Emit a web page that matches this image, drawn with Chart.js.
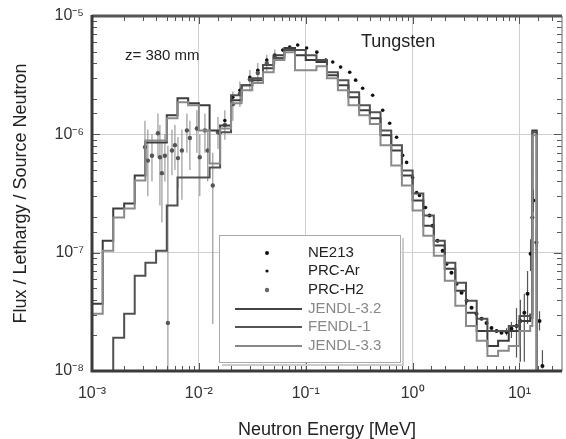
<!DOCTYPE html>
<html>
<head>
<meta charset="utf-8">
<script src="https://cdn.jsdelivr.net/npm/chart.js@4"></script>
<style>
  html, body { margin: 0; padding: 0; background: #fff; }
</style>
</head>
<body>
<canvas id="chart" width="566" height="439"></canvas>
<script>
// bin edges of the calculated spectra (MeV)
const edgesMeV = [0.001, 0.00126, 0.00158, 0.002, 0.00251, 0.00316, 0.00398, 0.00501, 0.00631, 0.00794,
  0.01, 0.0126, 0.0158, 0.02, 0.0251, 0.0316, 0.0398, 0.0501, 0.0631, 0.0794,
  0.1, 0.126, 0.158, 0.2, 0.251, 0.316, 0.398, 0.501, 0.631, 0.794,
  1, 1.26, 1.58, 2, 2.51, 3.16, 3.98, 5.01, 6.31, 7.94,
  10, 12.6, 13.2, 14.5, 16];

// flux per lethargy per source neutron, one value per bin
const jendl32 = [3.7e-8, 1.26e-7, 2.36e-7, 2.6e-7, 4.49e-7, 8.55e-7, 8.55e-7, 1.45e-6, 2.02e-6, 1.83e-6,
  1.76e-6, 1.08e-6, 1.19e-6, 1.94e-6, 2.6e-6, 2.87e-6, 3.62e-6, 4.67e-6, 5.36e-6, 4.67e-6,
  4.24e-6, 4.08e-6, 3.16e-6, 2.6e-6, 2.06e-6, 1.6e-6, 1.37e-6, 9.8e-7, 7.31e-7, 4.49e-7,
  2.76e-7, 1.69e-7, 1.15e-7, 7.3e-8, 4.77e-8, 3.1e-8, 2.18e-8, 1.63e-8, 1.8e-8, 2.18e-8,
  2.65e-8, 2.8e-8, 1.08e-6, 1e-9];
const fendl1 = [1e-9, 1e-9, 1.91e-8, 3.04e-8, 6.38e-8, 8.2e-8, 1.04e-7, 2.5e-7, 4.32e-7, 4.32e-7,
  4.32e-7, 5.25e-7, 1.04e-6, 2.14e-6, 2.6e-6, 2.98e-6, 3.85e-6, 4.41e-6, 5.15e-6, 5.15e-6,
  4.67e-6, 4.24e-6, 3.35e-6, 2.87e-6, 2.27e-6, 1.76e-6, 1.54e-6, 1.08e-6, 8.07e-7, 4.95e-7,
  3.16e-7, 2.06e-7, 1.26e-7, 8.2e-8, 5.57e-8, 3.92e-8, 2.76e-8, 2.18e-8, 2.18e-8, 2.4e-8,
  2.92e-8, 3.0e-8, 1.04e-6, 1e-9];
const jendl33 = [3.04e-8, 1.04e-7, 1.98e-7, 2.36e-7, 4.07e-7, 8.89e-7, 8.89e-7, 1.37e-6, 1.87e-6, 1.76e-6,
  1.08e-6, 5.68e-7, 1.12e-6, 1.83e-6, 2.36e-6, 2.71e-6, 3.35e-6, 4.24e-6, 4.95e-6, 3.48e-6,
  3.48e-6, 3.77e-6, 2.98e-6, 2.36e-6, 1.76e-6, 1.45e-6, 1.22e-6, 8.07e-7, 5.46e-7, 3.7e-7,
  2.27e-7, 1.39e-7, 9.4e-8, 5.8e-8, 3.56e-8, 2.4e-8, 1.8e-8, 1.34e-8, 1.48e-8, 1.63e-8,
  2.18e-8, 2.4e-8, 9.8e-7, 1e-9];

// PRC-H2 measurement
const h2E = [0.00313, 0.00333, 0.00364, 0.00414, 0.00432, 0.00451, 0.00481, 0.00513, 0.0056, 0.00597,
  0.00637, 0.00694, 0.00773, 0.00824, 0.00958, 0.0102, 0.0114, 0.0121, 0.0135, 0.0151,
  0.0175, 0.0208, 0.0242, 0.030, 0.0356, 0.0432, 0.0513];
const h2F = [7.8e-7, 6.0e-7, 6.6e-7, 1.02e-6, 6.4e-7, 4.7e-7, 6.6e-7, 2.55e-8, 7.3e-7, 8.1e-7,
  6.3e-7, 7.3e-7, 1.08e-6, 9.3e-7, 1.12e-6, 6.4e-7, 1.08e-6, 7.3e-7, 3.7e-7, 1.04e-6,
  1.2e-6, 1.8e-6, 2.2e-6, 2.9e-6, 3.3e-6, 4.0e-6, 4.5e-6];
const h2Lo = [4.5e-7, 3.0e-7, 4.0e-7, 6.5e-7, 2.5e-7, 1.8e-7, 4.0e-7, 1e-9, 4.5e-7, 5.0e-7,
  3.5e-7, 2.8e-7, 7.0e-7, 5.0e-7, 7.0e-7, 3.0e-7, 7.0e-7, 4.0e-7, 2.5e-8, 7.5e-7,
  9.0e-7, 1.3e-6, 1.7e-6, 2.3e-6, 2.7e-6, 3.4e-6, 3.9e-6];
const h2Hi = [1.3e-6, 1.1e-6, 1.0e-6, 1.5e-6, 1.2e-6, 8.5e-7, 1.0e-6, 8.0e-7, 1.1e-6, 1.2e-6,
  9.5e-7, 1.1e-6, 1.5e-6, 1.3e-6, 1.6e-6, 1.0e-6, 1.5e-6, 1.1e-6, 7.0e-7, 1.4e-6,
  1.6e-6, 2.3e-6, 2.8e-6, 3.5e-6, 4.0e-6, 4.7e-6, 5.2e-6];

// PRC-Ar measurement
const arE = [0.0157, 0.0175, 0.0208, 0.0242, 0.030, 0.0356, 0.0432, 0.0513, 0.061, 0.0708,
  0.0841, 0.102, 0.127, 0.154, 0.179, 0.212, 0.258, 0.293, 0.341, 0.423,
  0.525, 0.61, 0.708, 0.807, 0.879, 1.0, 1.09, 1.16, 1.32];
const arF = [1.02e-6, 1.31e-6, 2.06e-6, 2.36e-6, 3.04e-6, 3.48e-6, 4.24e-6, 4.67e-6, 5.15e-6, 5.46e-6,
  5.68e-6, 5.36e-6, 4.95e-6, 4.24e-6, 4.08e-6, 3.7e-6, 3.35e-6, 2.87e-6, 2.45e-6, 2.14e-6,
  1.6e-6, 1.24e-6, 9.44e-7, 6.64e-7, 5.79e-7, 4.32e-7, 3.22e-7, 3.04e-7, 2.41e-7];

// NE213 measurement
const neE = [1.44, 1.54, 1.71, 1.91, 2.08, 2.31, 2.58, 2.87, 3.2, 3.56,
  3.96, 4.42, 4.92, 5.47, 6.1, 6.79, 7.56, 8.41, 9.38, 10.2,
  11.1, 11.9, 12.7, 13.2, 13.5, 14.4, 15.4, 16.4];
const neF = [2.06e-7, 1.69e-7, 1.26e-7, 1.04e-7, 8.07e-8, 6.77e-8, 5.46e-8, 4.58e-8, 3.92e-8, 3.42e-8,
  3.04e-8, 2.76e-8, 2.55e-8, 2.31e-8, 2.18e-8, 2.1e-8, 2.14e-8, 2.27e-8, 2.4e-8, 2.65e-8,
  3.1e-8, 4.5e-8, 9.8e-8, 1.98e-7, 2.76e-7, 1.22e-7, 2.65e-8, 1.1e-8];
const neLo = [2.06e-7, 1.69e-7, 1.26e-7, 1.04e-7, 8.07e-8, 6.77e-8, 5.46e-8, 4.58e-8, 3.92e-8, 3.42e-8,
  3.04e-8, 2.76e-8, 2.55e-8, 2.31e-8, 2.18e-8, 2.1e-8, 2.0e-8, 1.9e-8, 1.3e-8, 1.2e-8,
  1.2e-8, 2.5e-8, 7.0e-8, 1.5e-7, 2.2e-7, 9.0e-8, 2.2e-8, 1.05e-8];
const neHi = [2.06e-7, 1.69e-7, 1.26e-7, 1.04e-7, 8.07e-8, 6.77e-8, 5.46e-8, 4.58e-8, 3.92e-8, 3.42e-8,
  3.04e-8, 2.76e-8, 2.55e-8, 2.31e-8, 2.18e-8, 2.1e-8, 2.3e-8, 2.6e-8, 3.4e-8, 4.0e-8,
  4.5e-8, 7.0e-8, 1.3e-7, 2.6e-7, 3.4e-7, 1.6e-7, 3.2e-8, 1.5e-8];

const FONT = '"Liberation Sans", Arial, sans-serif';
const SUP = { '-': '\u207B', '0': '\u2070', '1': '\u00B9', '2': '\u00B2', '3': '\u00B3',
  '4': '\u2074', '5': '\u2075', '6': '\u2076', '7': '\u2077', '8': '\u2078', '9': '\u2079' };

function isDecade(v) {
  const l = Math.log10(v);
  return Math.abs(l - Math.round(l)) < 1e-6;
}
function decadeLabel(v) {
  if (!isDecade(v)) return '';
  const p = String(Math.round(Math.log10(v)));
  return '10' + p.split('').map(c => SUP[c]).join('');
}
function histogram(vals) {
  return edgesMeV.map((e, i) => ({ x: e, y: i < vals.length ? vals[i] : vals[vals.length - 1] }));
}
function points(xs, ys) {
  return xs.map((x, i) => ({ x: x, y: ys[i] }));
}

// vertical error bars, drawn through the chart scales
const errorBars = {
  id: 'errorBars',
  beforeDatasetsDraw(chart) {
    const { ctx, chartArea: a, scales: { x, y } } = chart;
    ctx.save();
    ctx.beginPath();
    ctx.rect(a.left, a.top, a.right - a.left, a.bottom - a.top);
    ctx.clip();
    chart.data.datasets.forEach(ds => {
      if (!ds.errLo) return;
      ctx.strokeStyle = ds.errColor;
      ctx.lineWidth = 1.2;
      ds.data.forEach((p, j) => {
        const px = x.getPixelForValue(p.x);
        ctx.beginPath();
        ctx.moveTo(px, y.getPixelForValue(ds.errLo[j]));
        ctx.lineTo(px, y.getPixelForValue(ds.errHi[j]));
        ctx.stroke();
      });
    });
    ctx.restore();
  }
};

// frame, inward ticks, annotations and legend box
const decorations = {
  id: 'decorations',
  afterDraw(chart) {
    const { ctx, chartArea: a, scales: { x, y } } = chart;
    ctx.save();
    ctx.strokeStyle = '#555';
    ctx.lineWidth = 1;
    x.ticks.forEach(t => {
      const px = Math.round(x.getPixelForValue(t.value)) + 0.5;
      if (px < a.left + 2 || px > a.right - 2) return;
      const len = isDecade(t.value) ? 8 : 5;
      ctx.beginPath();
      ctx.moveTo(px, a.bottom); ctx.lineTo(px, a.bottom - len);
      ctx.moveTo(px, a.top); ctx.lineTo(px, a.top + len);
      ctx.stroke();
    });
    y.ticks.forEach(t => {
      const py = Math.round(y.getPixelForValue(t.value)) + 0.5;
      if (py < a.top + 2 || py > a.bottom - 2) return;
      const len = isDecade(t.value) ? 8 : 5;
      ctx.beginPath();
      ctx.moveTo(a.left, py); ctx.lineTo(a.left + len, py);
      ctx.moveTo(a.right, py); ctx.lineTo(a.right - len, py);
      ctx.stroke();
    });

    // frame
    ctx.strokeStyle = '#999';
    ctx.lineWidth = 1.5;
    ctx.beginPath(); ctx.moveTo(a.right, a.top); ctx.lineTo(a.right, a.bottom); ctx.stroke();
    ctx.strokeStyle = '#555';
    ctx.lineWidth = 3;
    ctx.beginPath(); ctx.moveTo(a.left, a.top); ctx.lineTo(a.right, a.top); ctx.stroke();
    ctx.strokeStyle = '#3a3a3a';
    ctx.lineWidth = 3;
    ctx.beginPath();
    ctx.moveTo(a.left, a.top - 1); ctx.lineTo(a.left, a.bottom); ctx.lineTo(a.right, a.bottom);
    ctx.stroke();

    // annotations
    ctx.fillStyle = '#222';
    ctx.textBaseline = 'middle';
    ctx.textAlign = 'left';
    ctx.font = '15px ' + FONT;
    ctx.fillText('z= 380 mm', 125, 56);
    ctx.font = '18px ' + FONT;
    ctx.fillText('Tungsten', 361, 42);

    // legend
    const bx = 219, by = 235, bw = 181, bh = 127;
    ctx.fillStyle = '#fff';
    ctx.fillRect(bx, by, bw, bh);
    ctx.strokeStyle = '#aaa';
    ctx.lineWidth = 1;
    ctx.strokeRect(bx + 0.5, by + 0.5, bw, bh);
    ctx.strokeStyle = '#ccc';
    ctx.lineWidth = 2;
    ctx.beginPath();
    ctx.moveTo(bx + bw + 3, by + 3); ctx.lineTo(bx + bw + 3, by + bh + 3); ctx.lineTo(bx + 3, by + bh + 3);
    ctx.stroke();

    const entries = [
      { label: 'NE213', kind: 'dot', color: '#111', r: 2, text: '#222' },
      { label: 'PRC-Ar', kind: 'dot', color: '#111', r: 1.6, text: '#222' },
      { label: 'PRC-H2', kind: 'dot', color: '#666', r: 2.2, text: '#222' },
      { label: 'JENDL-3.2', kind: 'line', color: '#444', text: '#888' },
      { label: 'FENDL-1', kind: 'line', color: '#555', text: '#888' },
      { label: 'JENDL-3.3', kind: 'line', color: '#888', text: '#888' }
    ];
    const rowY = [253, 271, 290, 309, 327, 346];
    ctx.font = '15px ' + FONT;
    entries.forEach((e, i) => {
      const ry = rowY[i];
      if (e.kind === 'dot') {
        ctx.fillStyle = e.color;
        ctx.beginPath(); ctx.arc(267, ry, e.r, 0, Math.PI * 2); ctx.fill();
      } else {
        ctx.strokeStyle = e.color;
        ctx.lineWidth = 2;
        ctx.beginPath(); ctx.moveTo(235, ry); ctx.lineTo(302, ry); ctx.stroke();
      }
      ctx.fillStyle = e.text;
      ctx.fillText(e.label, 308, ry);
    });
    ctx.restore();
  }
};

const logAxis = (min, max, title, fit, tickLen) => ({
  type: 'logarithmic',
  min: min,
  max: max,
  border: { display: false },
  grid: {
    drawTicks: true,
    tickLength: tickLen,
    tickColor: 'rgba(0,0,0,0)',
    lineWidth: 1,
    color: c => (c.tick && isDecade(c.tick.value) ? '#cfcfcf' : 'rgba(0,0,0,0)')
  },
  ticks: {
    autoSkip: false,
    maxRotation: 0,
    padding: 3,
    color: '#333',
    font: { family: FONT, size: 16 },
    callback: v => decadeLabel(v)
  },
  title: { display: true, text: title, color: '#222', font: { family: FONT, size: 18, lineHeight: 1 } },
  afterFit: fit
});

const xAxis = logAxis(1e-3, 25, 'Neutron Energy [MeV]', s => { s.height = 68; }, 10);
xAxis.title.padding = { top: 0, bottom: 0 };
const yAxis = logAxis(1e-8, 1e-5, 'Flux / Lethargy / Source Neutron', s => { s.width = 92; }, 5);
yAxis.title.padding = { top: 12, bottom: 0 };

new Chart(document.getElementById('chart').getContext('2d'), {
  type: 'scatter',
  data: {
    datasets: [
      { type: 'line', label: 'JENDL-3.3', data: histogram(jendl33), stepped: 'before',
        borderColor: '#8a8a8a', borderWidth: 2, pointRadius: 0, fill: false },
      { type: 'line', label: 'FENDL-1', data: histogram(fendl1), stepped: 'before',
        borderColor: '#505050', borderWidth: 2, pointRadius: 0, fill: false },
      { type: 'line', label: 'JENDL-3.2', data: histogram(jendl32), stepped: 'before',
        borderColor: '#3c3c3c', borderWidth: 2, pointRadius: 0, fill: false },
      { label: 'PRC-H2', data: points(h2E, h2F), errLo: h2Lo, errHi: h2Hi, errColor: '#9a9a9a',
        pointRadius: 2.2, pointBackgroundColor: '#555', pointBorderWidth: 0 },
      { label: 'PRC-Ar', data: points(arE, arF),
        pointRadius: 1.8, pointBackgroundColor: '#111', pointBorderWidth: 0 },
      { label: 'NE213', data: points(neE, neF), errLo: neLo, errHi: neHi, errColor: '#555',
        pointRadius: 2, pointBackgroundColor: '#111', pointBorderWidth: 0 }
    ]
  },
  options: {
    responsive: false,
    animation: false,
    layout: { padding: { top: 16, right: 3, left: 0, bottom: 0 } },
    plugins: { legend: { display: false }, tooltip: { enabled: false } },
    scales: { x: xAxis, y: yAxis }
  },
  plugins: [errorBars, decorations]
});
</script>
</body>
</html>
